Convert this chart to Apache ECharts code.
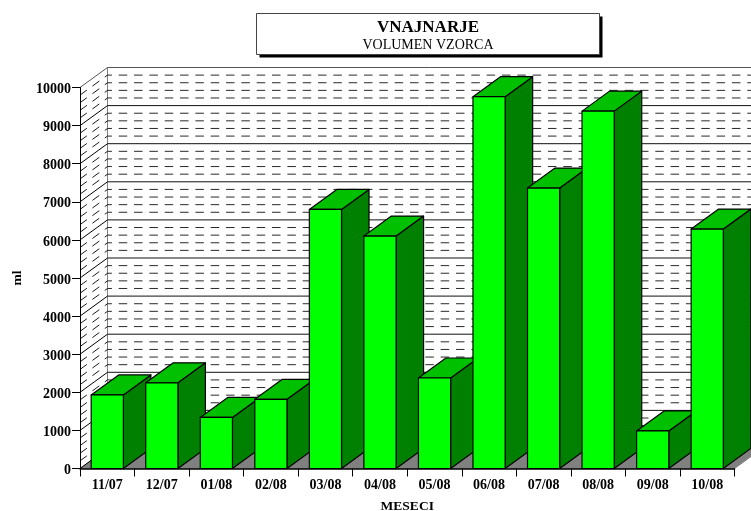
<!DOCTYPE html>
<html>
<head>
<meta charset="utf-8">
<style>html,body{margin:0;padding:0;background:#fff}#c{width:751px;height:511px}</style>
<script src="https://cdn.jsdelivr.net/npm/echarts@6/dist/echarts.min.js"></script>
</head>
<body>
<div id="c"></div>
<script>
const categories = ['11/07','12/07','01/08','02/08','03/08','04/08','05/08','06/08','07/08','08/08','09/08','10/08'];
const volumes = [1930,2250,1340,1815,6800,6100,2375,9760,7360,9380,985,6285];
const axisMax = 10000;
const majorStep = 1000;
const minorStep = 200;

const DX = 27.5, DY = 20;
const SERIF = '"Liberation Serif","Times New Roman",serif';
const rows = [];
for (let v = 0; v <= axisMax; v += minorStep) rows.push(v);

function line(x1, y1, x2, y2, style) {
  return {type:'line', shape:{x1,y1,x2,y2}, style:Object.assign({fill:null}, style), silent:true};
}
function renderRow(params, api) {
  const v = api.value(0), cs = params.coordSys;
  const y = api.coord([0, v])[1];
  const L = cs.x, R = cs.x + cs.width;
  const major = v % majorStep === 0;
  const st = major
    ? {stroke: v === axisMax ? '#555' : '#111', lineWidth:1}
    : {stroke:'#111', lineWidth:0.9, lineDash:[8.5,6.83], lineDashOffset:4.1};
  const sideSt = major
    ? {stroke: v === axisMax ? '#555' : '#000', lineWidth:1}
    : {stroke:'#000', lineWidth:0.9, lineDash:[8.5,6.83], lineDashOffset:0};
  return {type:'group', children:[
    line(L + DX, y - DY, R + DX, y - DY, st),
    line(L, y, L + DX, y - DY, sideSt)
  ]};
}
function renderFloor(params, api) {
  const cs = params.coordSys;
  const top = api.coord([0, axisMax])[1], y0 = api.coord([0, 0])[1];
  const L = cs.x, R = cs.x + cs.width;
  return {type:'group', children:[
    {type:'polygon', shape:{points:[[L,y0],[L+DX,y0-DY],[R+DX,y0-DY],[R,y0]]}, style:{fill:'#808080', stroke:'#808080', lineWidth:1}},
    line(L + DX, top - DY, L + DX, y0 - DY, {stroke:'#808080', lineWidth:1})
  ]};
}
function renderBar(params, api) {
  const idx = api.value(0), val = api.value(1);
  const c = api.coord([idx, val]), base = api.coord([idx, 0]);
  const w = api.size([1, 0])[0] * 0.59;
  const x1 = c[0] - w / 2, x2 = c[0] + w / 2, yT = c[1], yB = base[1];
  const edge = {stroke:'#000', lineWidth:1.2, lineJoin:'round'};
  return {type:'group', children:[
    {type:'polygon', shape:{points:[[x2,yB],[x2+DX,yB-DY],[x2+DX,yT-DY],[x2,yT]]}, style:Object.assign({fill:'#008000'}, edge)},
    {type:'polygon', shape:{points:[[x1,yT],[x2,yT],[x2+DX,yT-DY],[x1+DX,yT-DY]]}, style:Object.assign({fill:'#00C000'}, edge)},
    {type:'rect', shape:{x:x1, y:yT, width:w, height:yB-yT}, style:Object.assign({fill:'#00FF00'}, edge)}
  ]};
}

const chart = echarts.init(document.getElementById('c'), null, {renderer:'canvas'});
chart.setOption({
  animation:false,
  backgroundColor:'#fff',
  title:{
    text:'VNAJNARJE', subtext:'VOLUMEN VZORCA',
    left:428, top:19, textAlign:'center', padding:0, itemGap:2,
    textStyle:{fontFamily:SERIF, fontWeight:'bold', fontSize:17, color:'#000'},
    subtextStyle:{fontFamily:SERIF, fontSize:14, color:'#000'}
  },
  graphic:[
    {type:'rect', shape:{x:259.5,y:16.5,width:343,height:41}, style:{fill:'#000'}, silent:true, z:1},
    {type:'rect', shape:{x:256.5,y:13.5,width:343,height:41}, style:{fill:'#fff', stroke:'#444', lineWidth:1}, silent:true, z:2}
  ],
  grid:{left:80, right:16.5, top:87.5, bottom:42.5, outerBoundsMode:'none'},
  xAxis:{
    type:'category', data:categories,
    name:'MESECI', nameLocation:'middle', nameGap:31,
    nameTextStyle:{fontFamily:SERIF, fontWeight:'bold', fontSize:13.5, color:'#000'},
    axisLine:{show:true, lineStyle:{color:'#000', width:1.5}},
    axisTick:{show:true, length:8, alignWithLabel:false, lineStyle:{color:'#000', width:1}},
    axisLabel:{fontFamily:SERIF, fontWeight:'bold', fontSize:14, color:'#000', margin:10, interval:0},
    splitLine:{show:false}, z:20
  },
  yAxis:{
    type:'value', min:0, max:axisMax, interval:majorStep,
    name:'ml', nameLocation:'middle', nameGap:55, nameRotate:90,
    nameTextStyle:{fontFamily:SERIF, fontWeight:'bold', fontSize:13.5, color:'#000'},
    axisLine:{show:true, lineStyle:{color:'#000', width:1}},
    axisTick:{show:true, length:8, lineStyle:{color:'#000', width:1}},
    axisLabel:{fontFamily:SERIF, fontWeight:'bold', fontSize:14, color:'#000', margin:9,
      formatter:function(v){return '{n|' + v + '}';},
      rich:{n:{fontFamily:SERIF, fontWeight:'bold', fontSize:14, color:'#000', padding:[4,0,0,0]}}},
    splitLine:{show:false}, z:20
  },
  series:[
    {type:'custom', name:'floor', renderItem:renderFloor, data:[[0]], z:1, silent:true},
    {type:'custom', name:'walls', renderItem:renderRow, data:rows.map(v=>[v]), encode:{y:0}, z:2, silent:true},
    {type:'custom', name:'Volumen', renderItem:renderBar, data:volumes.map((v,i)=>[i,v]), encode:{x:0,y:1}, z:3, silent:true}
  ]
});
</script>
</body>
</html>
